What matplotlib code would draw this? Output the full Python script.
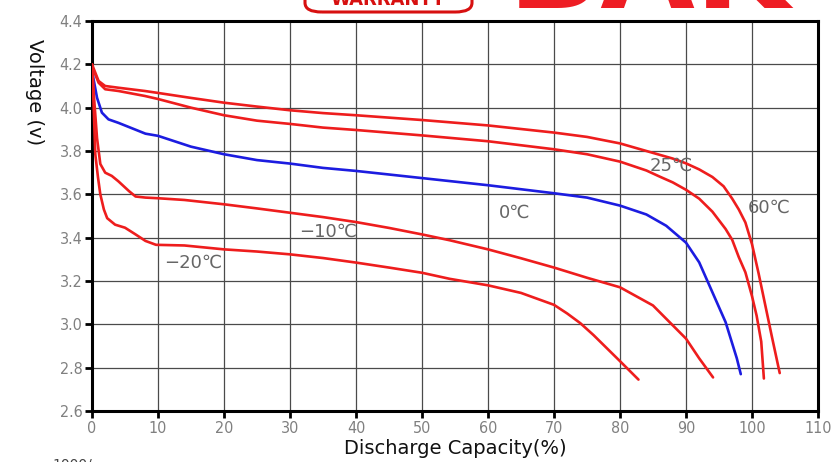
import matplotlib
matplotlib.use("Agg")
import matplotlib.pyplot as plt
from matplotlib.patches import FancyBboxPatch

# ---- data ----
x_60 = [0, 1, 2, 4, 8, 10, 15, 20, 25, 30, 35, 40, 50, 60, 70, 75, 80, 84, 88, 90, 92, 94, 95.7, 97, 98, 99, 100, 101, 102, 103, 104.2]
v_60 = [4.2, 4.123, 4.1, 4.092, 4.077, 4.068, 4.045, 4.023, 4.005, 3.988, 3.975, 3.965, 3.943, 3.918, 3.885, 3.865, 3.835, 3.8, 3.765, 3.743, 3.715, 3.68, 3.637, 3.58, 3.53, 3.47, 3.37, 3.235, 3.09, 2.945, 2.775]

x_25 = [0, 1, 2, 4, 8, 10, 15, 20, 25, 30, 35, 40, 50, 60, 70, 75, 80, 84, 86, 88, 90, 92, 94, 96, 97, 98, 99, 100, 100.7, 101.4, 101.8]
v_25 = [4.19, 4.115, 4.085, 4.077, 4.054, 4.04, 4.0, 3.965, 3.94, 3.925, 3.908, 3.897, 3.872, 3.845, 3.808, 3.785, 3.751, 3.71, 3.682, 3.655, 3.621, 3.58, 3.52, 3.44, 3.39, 3.31, 3.24, 3.13, 3.04, 2.92, 2.75]

x_0 = [0, 0.76, 1.5, 2.5, 4, 8.1, 10, 15, 20, 25, 30, 35, 40, 50, 60, 70, 75, 80, 84, 87, 90, 92, 94, 96, 97.7, 98.3]
v_0 = [4.17, 4.046, 3.977, 3.946, 3.93, 3.88, 3.87, 3.82, 3.785, 3.758, 3.742, 3.722, 3.708, 3.675, 3.642, 3.605, 3.585, 3.548, 3.507, 3.455, 3.377, 3.286, 3.148, 3.01, 2.843, 2.77]

x_m10 = [0, 0.3, 0.76, 1.26, 2, 3, 4, 5.6, 6.6, 8.1, 10, 14, 20, 25, 30, 35, 40, 45, 50, 54.2, 60, 65, 70, 75, 80, 85, 90, 92, 94.1]
v_m10 = [4.2, 4.05, 3.86, 3.74, 3.70, 3.685, 3.66, 3.615, 3.59, 3.585, 3.582, 3.574, 3.554, 3.535, 3.515, 3.495, 3.472, 3.445, 3.415, 3.388, 3.346, 3.305, 3.262, 3.215, 3.171, 3.087, 2.934, 2.843, 2.755]

x_m20 = [0, 0.2, 0.5, 0.9, 1.26, 1.8, 2.3, 3.5, 5, 6.6, 8.1, 9.7, 14, 20, 25, 30, 35, 40, 45, 50, 54.2, 60, 65, 70, 72, 74, 76, 78, 80, 82.8]
v_m20 = [4.2, 4.05, 3.785, 3.68, 3.6, 3.53, 3.49, 3.46, 3.446, 3.415, 3.385, 3.367, 3.364, 3.346, 3.336, 3.323, 3.306, 3.285, 3.262, 3.238, 3.21, 3.18, 3.145, 3.09, 3.05, 3.005, 2.95, 2.89, 2.83, 2.745]

labels = ["25℃", "60℃", "0℃", "−10℃", "−20℃"]
label_pos = [(87.7, 3.731), (102.6, 3.537), (64.1, 3.514), (35.8, 3.426), (15.3, 3.283)]

x_ticks = list(range(0, 111, 10))
y_ticks = [2.6, 2.8, 3.0, 3.2, 3.4, 3.6, 3.8, 4.0, 4.2, 4.4]
y_tick_labels = ["2.6", "2.8", "3.0", "3.2", "3.4", "3.6", "3.8", "4.0", "4.2", "4.4"]

RED = "#ee1d1d"
BLUE = "#1c1ce0"

fig = plt.figure(figsize=(8.32, 4.62), dpi=100)
ax = fig.add_axes([92/832, 1 - 411/462, (818-92)/832, (411-21)/462])

for xs, vs, c in [(x_60, v_60, RED), (x_25, v_25, RED), (x_0, v_0, BLUE),
                  (x_m10, v_m10, RED), (x_m20, v_m20, RED)]:
    ax.plot(xs, vs, color=c, lw=1.9, solid_capstyle="round", solid_joinstyle="round", zorder=3)

for txt, (lx, ly) in zip(labels, label_pos):
    ax.text(lx, ly, txt, ha="center", va="center", fontsize=13, color="#666666",
            family=["DejaVu Sans", "Noto Sans CJK SC"], zorder=4)

ax.set_xlim(0, 110)
ax.set_ylim(2.6, 4.4)
ax.set_xticks(x_ticks)
ax.set_yticks(y_ticks)
ax.set_yticklabels(y_tick_labels)
ax.grid(True, color="#4a4a4a", lw=0.9, zorder=1)
ax.set_axisbelow(True)
for s in ax.spines.values():
    s.set_linewidth(2.2)
    s.set_color("black")
ax.tick_params(direction="out", length=5, width=2, color="black", labelcolor="#808080", labelsize=11.5, pad=2)
for lab in ax.get_xticklabels() + ax.get_yticklabels():
    lab.set_family("DejaVu Sans")
    lab.set_fontstretch("condensed")
    lab.set_fontweight("light")

ax.set_xlabel("Discharge Capacity(%)", fontsize=14, color="#111111", labelpad=2)
ax.set_ylabel("Voltage (v)", fontsize=14, color="#111111", rotation=270, va="center")
ax.yaxis.set_label_coords(-0.079, 0.818)

# cropped header decoration (cut off at the top edge, as in the source image)
box = FancyBboxPatch((305/832, 1 - 12/462), 167/832, 30/462,
                     boxstyle="round,pad=0,rounding_size=0.02",
                     transform=fig.transFigure, fill=False, ec="#d71010", lw=2.2)
fig.patches.append(box)
fig.text(388/832, 1 - 5/462, "WARRANTY", ha="center", va="baseline", fontsize=13,
         fontweight="bold", color="#d71010")
fig.text(508/832, 1 - 8/462, "BAK", ha="left", va="baseline", fontsize=88,
         fontweight="bold", color="#ee1d24")
fig.text(52/832, -6/462, "1000/", ha="left", va="baseline", fontsize=10, color="#444444")

fig.savefig("out.png", dpi=100)
